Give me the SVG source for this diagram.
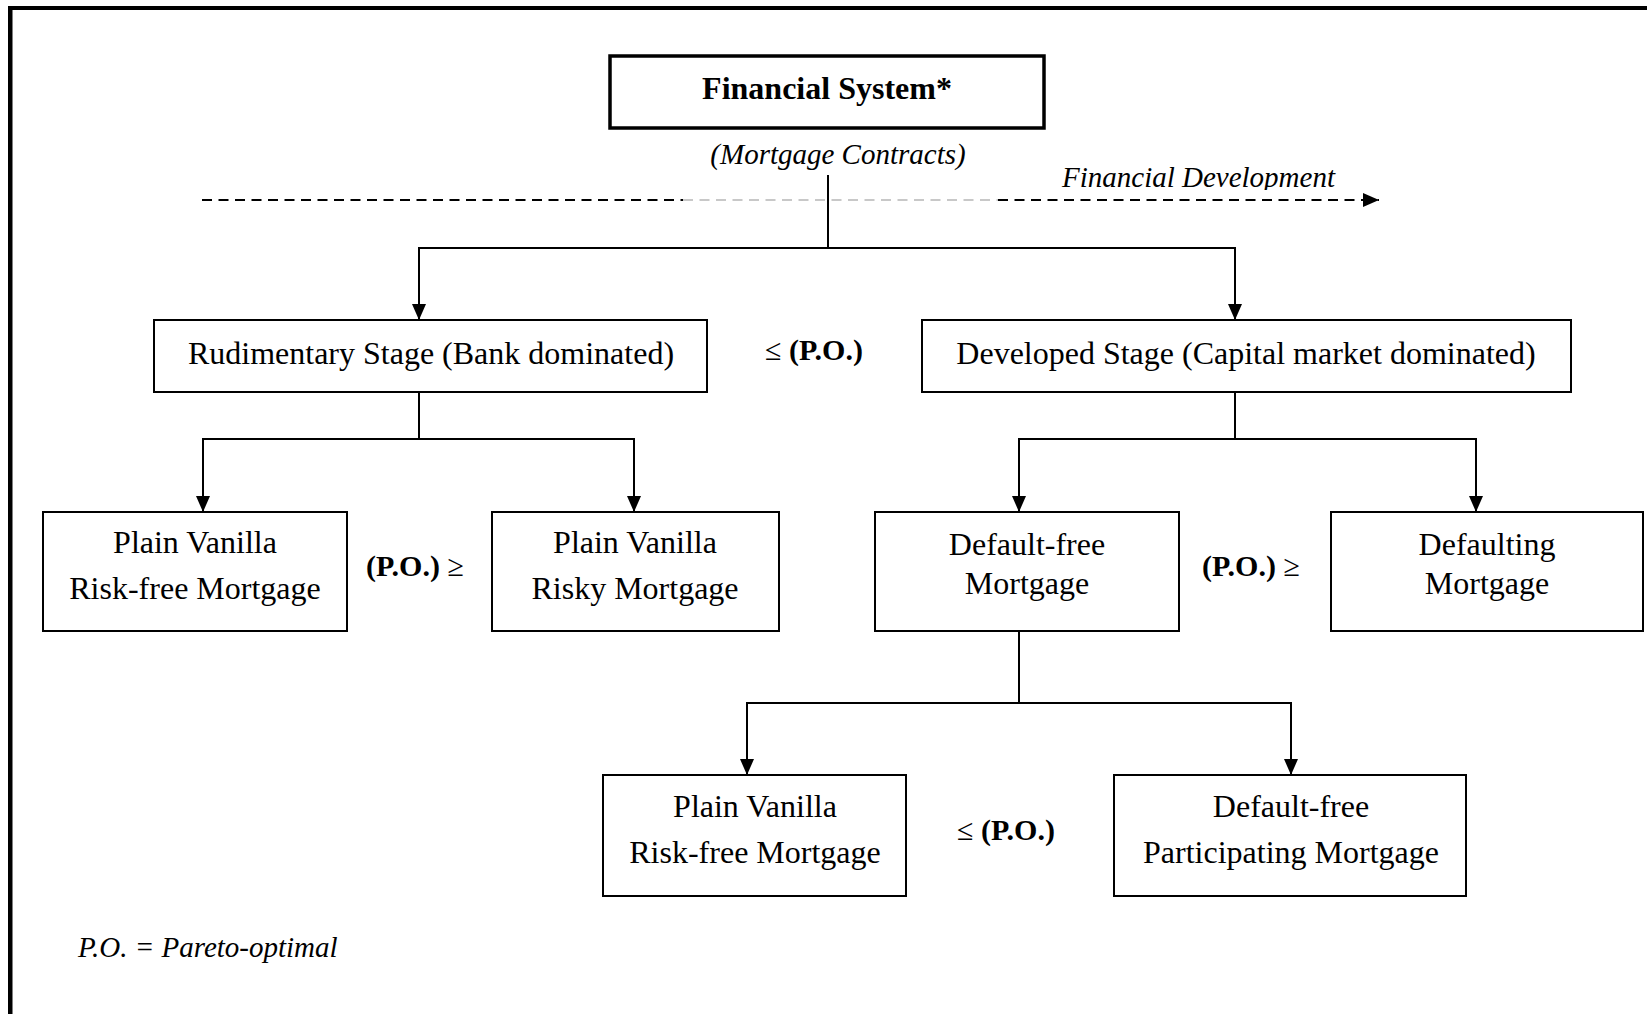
<svg xmlns="http://www.w3.org/2000/svg" width="1647" height="1014" viewBox="0 0 1647 1014">
<style>
  .box { fill: #fff; stroke: #000; stroke-width: 2; }
  .title { fill: #fff; stroke: #000; stroke-width: 3.5; }
  .t { font-family: "Liberation Serif", "Times New Roman", serif; font-size: 32px; fill: #000; text-anchor: middle; }
  .b { font-weight: bold; }
  .i { font-family: "Liberation Serif", "Times New Roman", serif; font-style: italic; font-size: 29px; fill: #000; }
  .po { font-family: "Liberation Serif", "Times New Roman", serif; font-size: 30px; fill: #000; text-anchor: middle; }
  .conn { fill: none; stroke: #000; stroke-width: 2; }
  .dash { fill: none; stroke-width: 2; stroke-dasharray: 10 6.5; }
</style>
<defs>
  <marker id="arr" markerUnits="userSpaceOnUse" markerWidth="17" markerHeight="15" refX="16" refY="7" orient="auto">
    <path d="M0,0 L16,7 L0,14 z" fill="#000"/>
  </marker>
  <clipPath id="clipFD"><rect x="1000" y="150" width="400" height="40"/></clipPath>
</defs>
<rect width="1647" height="1014" fill="#fff"/>
<g id="frame">
  <rect x="8" y="6" width="1639" height="4" fill="#000"/>
  <rect x="8" y="6" width="4.5" height="1008" fill="#000"/>
</g>

<g id="timeline">
  <line class="dash" x1="202" y1="200" x2="683" y2="200" stroke="#000"/>
  <line class="dash" x1="683" y1="200" x2="998" y2="200" stroke="#c8c8c8"/>
  <line class="dash" x1="998" y1="200" x2="1379" y2="200" stroke="#000" marker-end="url(#arr)"/>
  <text class="i" x="1062" y="187" clip-path="url(#clipFD)">Financial Development</text>
</g>

<g id="connectors">
  <polyline class="conn" points="828,175 828,248 419,248 419,320" marker-end="url(#arr)"/>
  <polyline class="conn" points="828,248 1235,248 1235,320" marker-end="url(#arr)"/>
  <polyline class="conn" points="419,392 419,439 203,439 203,512" marker-end="url(#arr)"/>
  <polyline class="conn" points="419,439 634,439 634,512" marker-end="url(#arr)"/>
  <polyline class="conn" points="1235,392 1235,439 1019,439 1019,512" marker-end="url(#arr)"/>
  <polyline class="conn" points="1235,439 1476,439 1476,512" marker-end="url(#arr)"/>
  <polyline class="conn" points="1019,631 1019,703 747,703 747,775" marker-end="url(#arr)"/>
  <polyline class="conn" points="1019,703 1291,703 1291,775" marker-end="url(#arr)"/>
</g>

<g id="n-financial-system">
  <rect class="title" x="610" y="56" width="434" height="72"/>
  <text class="t b" x="827" y="99">Financial System*</text>
  <text class="i" x="838" y="164" text-anchor="middle">(Mortgage Contracts)</text>
</g>

<g id="n-rudimentary">
  <rect class="box" x="154" y="320" width="553" height="72"/>
  <text class="t" x="431" y="364">Rudimentary Stage (Bank dominated)</text>
</g>

<g id="n-developed">
  <rect class="box" x="922" y="320" width="649" height="72"/>
  <text class="t" x="1246" y="364">Developed Stage (Capital market dominated)</text>
</g>

<g id="n-pv-riskfree-1">
  <rect class="box" x="43" y="512" width="304" height="119"/>
  <text class="t" x="195" y="553">Plain Vanilla</text>
  <text class="t" x="195" y="599">Risk-free Mortgage</text>
</g>

<g id="n-pv-risky">
  <rect class="box" x="492" y="512" width="287" height="119"/>
  <text class="t" x="635" y="553">Plain Vanilla</text>
  <text class="t" x="635" y="599">Risky Mortgage</text>
</g>

<g id="n-default-free">
  <rect class="box" x="875" y="512" width="304" height="119"/>
  <text class="t" x="1027" y="555">Default-free</text>
  <text class="t" x="1027" y="594">Mortgage</text>
</g>

<g id="n-defaulting">
  <rect class="box" x="1331" y="512" width="312" height="119"/>
  <text class="t" x="1487" y="555">Defaulting</text>
  <text class="t" x="1487" y="594">Mortgage</text>
</g>

<g id="n-pv-riskfree-2">
  <rect class="box" x="603" y="775" width="303" height="121"/>
  <text class="t" x="755" y="817">Plain Vanilla</text>
  <text class="t" x="755" y="863">Risk-free Mortgage</text>
</g>

<g id="n-df-participating">
  <rect class="box" x="1114" y="775" width="352" height="121"/>
  <text class="t" x="1291" y="817">Default-free</text>
  <text class="t" x="1291" y="863">Participating Mortgage</text>
</g>

<g id="relations">
  <text class="po" x="814" y="360">≤ <tspan font-weight="bold">(P.O.)</tspan></text>
  <text class="po" x="415" y="576"><tspan font-weight="bold">(P.O.)</tspan> ≥</text>
  <text class="po" x="1251" y="576"><tspan font-weight="bold">(P.O.)</tspan> ≥</text>
  <text class="po" x="1006" y="840">≤ <tspan font-weight="bold">(P.O.)</tspan></text>
</g>

<text class="i" x="78" y="957">P.O. = Pareto-optimal</text>
</svg>
